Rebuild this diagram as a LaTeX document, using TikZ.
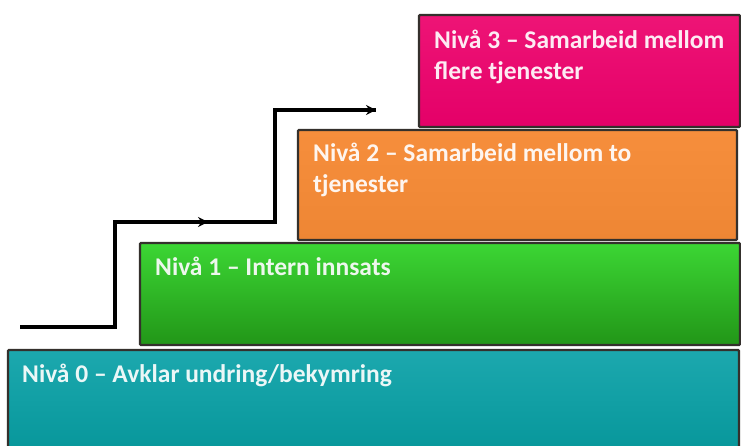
\documentclass[tikz,border=0pt]{standalone}
\usepackage{fontspec}
\setmainfont{Carlito}
\usetikzlibrary{arrows.meta}

\definecolor{tealtop}{RGB}{28,168,174}
\definecolor{tealbot}{RGB}{6,150,154}
\definecolor{greentop}{RGB}{60,214,52}
\definecolor{greenbot}{RGB}{34,150,24}
\definecolor{orangetop}{RGB}{246,142,60}
\definecolor{orangebot}{RGB}{238,134,52}
\definecolor{pinktop}{RGB}{238,20,118}
\definecolor{pinkbot}{RGB}{228,0,104}
\definecolor{edge}{RGB}{52,48,44}

\tikzset{
  level/.style={draw=edge, line width=2.2pt, rounded corners=1pt},
  label/.style={anchor=north west, align=left, inner sep=0pt,
    font=\fontsize{25.5}{31}\selectfont\bfseries, text=white!92!#1},
  stairline/.style={line width=3.2pt, draw=black, line join=miter},
  tip/.style={-{Stealth[length=10pt,width=10pt]}}
}

\begin{document}
\begin{tikzpicture}[x=1pt,y=-1pt]
  \useasboundingbox (0,0) rectangle (741,446);
  \clip (0,0) rectangle (741,446);
  \fill[white] (0,0) rectangle (741,446);

  % the four levels, from the bottom up
  \shade[level, top color=tealtop, bottom color=tealbot]
    (8,350) rectangle (739,456);
  \node[label=tealbot] (n0) at (22,364) {Nivå 0 – Avklar undring/bekymring};

  \shade[level, top color=greentop, bottom color=greenbot]
    (140,243) rectangle (740,345);
  \node[label=greenbot] (n1) at (155,257) {Nivå 1 – Intern innsats};

  \shade[level, top color=orangetop, bottom color=orangebot]
    (298,130) rectangle (737,240);
  \node[label=orangebot] (n2) at (313,143) {Nivå 2 – Samarbeid mellom to\\tjenester};

  \shade[level, top color=pinktop, bottom color=pinkbot]
    (419,15) rectangle (740,127);
  \node[label=pinkbot] (n3) at (434,30) {Nivå 3 – Samarbeid mellom\\flere tjenester};

  % the stair-shaped arrow climbing the levels
  \coordinate (s0) at (20,327);
  \coordinate (s1) at (115,327);
  \coordinate (s2) at (115,222);
  \coordinate (mid) at (208,222);
  \coordinate (s3) at (275,222);
  \coordinate (s4) at (275,110);
  \coordinate (s5) at (376,110);

  \draw[stairline] (s0) -- (s1) -- (s2) -- (s3) -- (s4) -- (s5);
  \draw[stairline, tip] (s2) -- (mid);
  \draw[stairline, tip] (s4) -- (s5);
\end{tikzpicture}
\end{document}
